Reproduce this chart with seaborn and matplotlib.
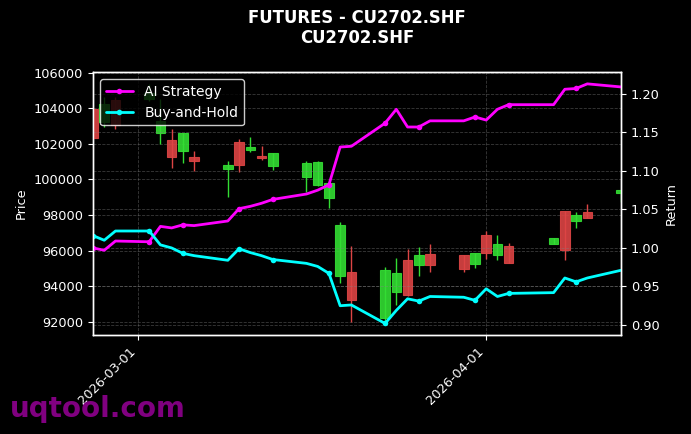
import matplotlib
matplotlib.use("Agg")
import matplotlib.pyplot as plt
import matplotlib.dates as mdates
import numpy as np
import pandas as pd
import seaborn as sns

dates = ['2026-02-25', '2026-02-26', '2026-02-27', '2026-03-02', '2026-03-03', '2026-03-04',
         '2026-03-05', '2026-03-06', '2026-03-09', '2026-03-10', '2026-03-11', '2026-03-12',
         '2026-03-13', '2026-03-16', '2026-03-17', '2026-03-18', '2026-03-19', '2026-03-20',
         '2026-03-23', '2026-03-24', '2026-03-25', '2026-03-26', '2026-03-27', '2026-03-30',
         '2026-03-31', '2026-04-01', '2026-04-02', '2026-04-03', '2026-04-07', '2026-04-08',
         '2026-04-09', '2026-04-10', '2026-04-13']
open_ = [103940, 103230, 104450, 104500, 102610, 102215, 101610, 101260, 100585, 102100, 101655,
         101315, 100770, 100115, 99685, 98970, 94565, 94790, 92220, 93685, 95465, 95185, 95805,
         95745, 95240, 96870, 95745, 96255, 96365, 98220, 97675, 98150, 99250]
close = [102345, 104255, 103040, 104860, 103285, 101260, 102625, 101050, 100810, 100825, 101820,
         101185, 101465, 100940, 100995, 99780, 97435, 93215, 94905, 94720, 93500, 95745, 95185,
         94960, 95875, 95875, 96365, 95315, 96685, 96030, 97995, 97845, 99405]
high = [104000, 104630, 104630, 105350, 104520, 102835, 102630, 101615, 101050, 102290, 102385,
        101880, 101470, 101035, 101035, 99855, 97585, 96255, 95090, 95560, 96070, 96180, 96365,
        95750, 95880, 97115, 96870, 96405, 96690, 98225, 98185, 98615, 99410]
low = [102300, 102945, 102850, 104410, 101990, 100640, 100920, 100470, 99010, 100430, 101555,
       101090, 100530, 99275, 99630, 98410, 94190, 91995, 91925, 92935, 93440, 94585, 94810,
       94810, 95035, 95505, 95465, 95310, 96360, 95465, 97285, 97840, 98745]
ai_strategy = [1.000, 0.997, 1.009, 1.008, 1.028, 1.026, 1.030, 1.029, 1.035, 1.051, 1.054,
               1.058, 1.063, 1.070, 1.075, 1.082, 1.131, 1.132, 1.162, 1.180, 1.157, 1.157,
               1.165, 1.165, 1.170, 1.166, 1.180, 1.186, 1.186, 1.206, 1.207, 1.213, 1.209]
buy_hold = [1.016, 1.010, 1.022, 1.022, 1.004, 1.000, 0.993, 0.990, 0.984, 0.999, 0.994,
            0.990, 0.985, 0.980, 0.976, 0.967, 0.925, 0.926, 0.902, 0.919, 0.934, 0.931,
            0.937, 0.936, 0.932, 0.947, 0.937, 0.941, 0.942, 0.961, 0.956, 0.961, 0.971]

plt.style.use('dark_background')
sns.set_style('dark', {'axes.facecolor': 'black', 'figure.facecolor': 'black',
                       'axes.edgecolor': 'white', 'text.color': 'white',
                       'axes.labelcolor': 'white', 'xtick.color': 'white',
                       'ytick.color': 'white', 'xtick.bottom': True, 'ytick.left': True})
plt.rcParams['font.family'] = ['DejaVu Sans']

df = pd.DataFrame({'date': pd.to_datetime(dates), 'open': open_, 'close': close,
                   'high': high, 'low': low, 'AI Strategy': ai_strategy,
                   'Buy-and-Hold': buy_hold})

fig = plt.figure(figsize=(6.91, 4.34), dpi=100)
ax = fig.add_axes([0.1346, 0.2281, 0.7641, 0.6053])
ax2 = ax.twinx()

up = df['close'] >= df['open']
green, red = '#33dd33', '#dd4444'
colors = np.where(up, green, red)
body_bottom = df[['open', 'close']].min(axis=1)
body_height = (df['close'] - df['open']).abs()
ax.vlines(df['date'], df['low'], df['high'], colors=colors, linewidth=1, zorder=2)
ax.bar(df['date'], body_height, bottom=body_bottom, width=0.85, color=colors,
       edgecolor=colors, linewidth=0.8, alpha=0.9, zorder=3)

sns.lineplot(data=df, x='date', y='AI Strategy', ax=ax2, color='#ff00ff', linewidth=2,
             marker='o', markersize=4, markeredgewidth=0, markevery=3, label='AI Strategy')
sns.lineplot(data=df, x='date', y='Buy-and-Hold', ax=ax2, color='#00ffff', linewidth=2,
             marker='o', markersize=4, markeredgewidth=0, markevery=3, label='Buy-and-Hold')

ax.set_xlim(pd.Timestamp('2026-02-25'), pd.Timestamp('2026-04-13'))
ax.set_ylim(91250, 106020)
ax2.set_ylim(0.887, 1.228)

ax.xaxis.set_major_locator(mdates.MonthLocator())
ax.xaxis.set_major_formatter(mdates.DateFormatter('%Y-%m-%d'))
for lbl in ax.get_xticklabels():
    lbl.set_rotation(45)
    lbl.set_ha('right')
ax.tick_params(axis='both', labelsize=9.3, colors='white')
ax2.tick_params(axis='y', labelsize=9.3, colors='white')
ax.set_yticks(np.arange(92000, 106001, 2000))
ax2.set_yticks(np.arange(0.90, 1.201, 0.05))
ax2.yaxis.set_major_formatter(matplotlib.ticker.FormatStrFormatter('%.2f'))

ax.set_xlabel('')
ax.set_ylabel('Price', fontsize=9.3, color='white')
ax2.set_xlabel('')
ax2.set_ylabel('Return', fontsize=9.3, color='white')

ax.grid(True, linestyle='--', linewidth=0.6, color='gray', alpha=0.45)
ax2.grid(True, axis='y', linestyle='--', linewidth=0.6, color='gray', alpha=0.45)
ax2.grid(False, axis='x')

for a in (ax, ax2):
    for s in a.spines.values():
        s.set_color('white')
        s.set_linewidth(1)

leg = ax2.legend(loc='upper left', fontsize=10, facecolor='black', edgecolor='white',
                 framealpha=0.8)
for t in leg.get_texts():
    t.set_color('white')

fig.suptitle('FUTURES - CU2702.SHF\nCU2702.SHF', x=0.5166, y=0.98, fontsize=11.9,
             fontweight='bold', color='white')
fig.text(0.014, 0.025, 'uqtool.com', fontsize=20, fontweight='bold', color='#800080',
         ha='left', va='bottom')

fig.savefig('out.png', dpi=100, facecolor='black')
